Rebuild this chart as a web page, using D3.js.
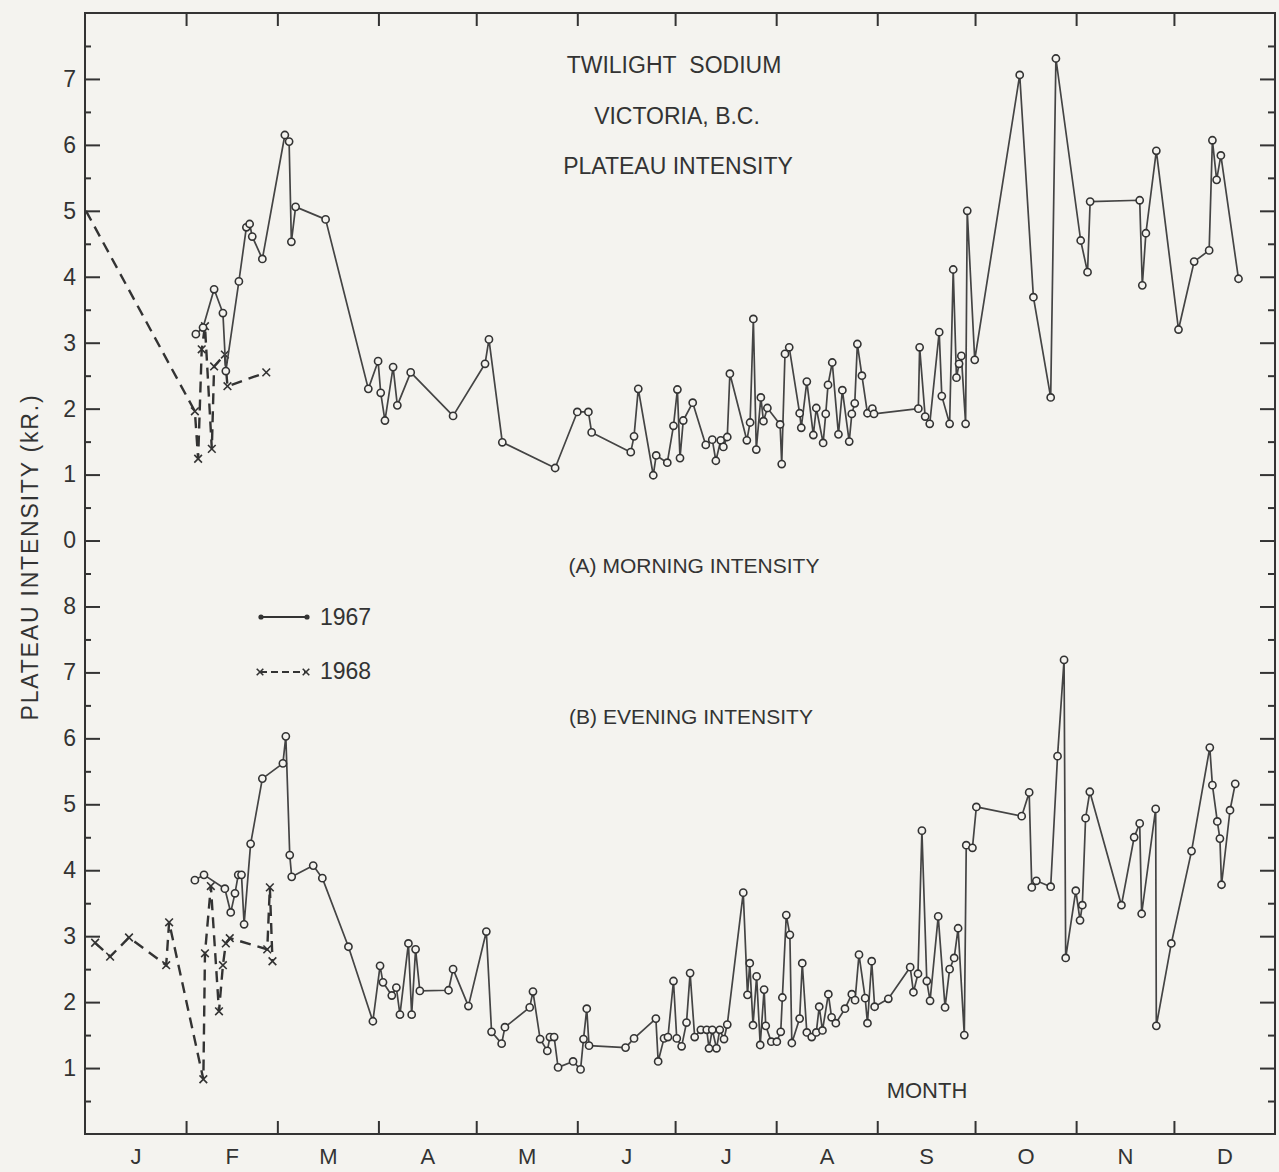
<!DOCTYPE html>
<html>
<head>
<meta charset="utf-8">
<script src="https://cdn.jsdelivr.net/npm/d3@7"></script>
<style>
  body { margin: 0; background: #f4f3ef; }
  svg { display: block; }
  text { font-family: "Liberation Sans", Arial, sans-serif; fill: #333; }
</style>
</head>
<body>
<svg id="chart"></svg>
<script>
// month labels and lengths (1967 is not a leap year)
const monthLetters = ['J', 'F', 'M', 'A', 'M', 'J', 'J', 'A', 'S', 'O', 'N', 'D'];
const monthDays = [31, 28, 31, 30, 31, 30, 31, 31, 30, 31, 30, 31];
const morningTicks = [0, 1, 2, 3, 4, 5, 6, 7];
const eveningTicks = [1, 2, 3, 4, 5, 6, 7, 8];

// [day of year, intensity kR]
const morning1967 = [[34.0,3.13],[36.2,3.23],[39.6,3.81],[42.3,3.45],[43.2,2.57],[47.2,3.93],[49.5,4.75],[50.5,4.80],[51.3,4.61],[54.4,4.27],[61.3,6.15],[62.6,6.05],[63.3,4.53],[64.6,5.06],[73.8,4.87],[86.9,2.30],[89.9,2.72],[90.7,2.24],[92.0,1.82],[94.5,2.63],[95.8,2.05],[99.9,2.55],[112.9,1.89],[122.7,2.68],[123.9,3.05],[128.0,1.49],[144.2,1.10],[151.0,1.95],[154.4,1.95],[155.4,1.64],[167.4,1.34],[168.4,1.58],[169.7,2.30],[174.3,0.99],[175.2,1.29],[178.6,1.18],[180.5,1.74],[181.7,2.29],[182.5,1.25],[183.5,1.82],[186.4,2.09],[190.4,1.45],[192.4,1.53],[193.5,1.21],[195.0,1.52],[195.8,1.42],[197.0,1.57],[197.8,2.53],[203.0,1.52],[204.0,1.79],[205.0,3.36],[205.9,1.38],[207.3,2.17],[208.1,1.81],[209.3,2.01],[213.2,1.76],[213.7,1.16],[214.7,2.83],[216.0,2.93],[219.2,1.93],[219.7,1.71],[221.4,2.41],[223.4,1.60],[224.3,2.01],[226.4,1.48],[227.2,1.92],[227.9,2.36],[229.2,2.70],[231.1,1.61],[232.3,2.28],[234.4,1.50],[235.2,1.92],[236.1,2.08],[236.9,2.98],[238.3,2.50],[240.0,1.93],[241.5,2.00],[242.0,1.92],[255.6,2.00],[256.0,2.93],[257.7,1.88],[259.1,1.77],[262.0,3.16],[262.8,2.19],[265.2,1.77],[266.3,4.11],[267.3,2.47],[268.1,2.68],[268.8,2.80],[270.1,1.77],[270.6,5.00],[272.9,2.74],[286.7,7.06],[290.9,3.69],[296.2,2.17],[297.8,7.31],[305.4,4.55],[307.5,4.07],[308.3,5.14],[323.5,5.16],[324.3,3.87],[325.4,4.66],[328.6,5.91],[335.4,3.20],[340.2,4.23],[344.8,4.40],[345.8,6.07],[347.1,5.47],[348.4,5.84],[353.8,3.97]];

const morning1968 = [[0.3,5.0],[33.7,1.96],[34.7,1.24],[35.8,2.9],[36.8,3.25],[38.9,1.39],[39.6,2.64],[42.9,2.82],[43.7,2.34],[55.6,2.55]];

const evening1967 = [[33.7,3.85],[36.5,3.93],[42.9,3.72],[44.7,3.36],[46.0,3.65],[47.0,3.93],[48.0,3.93],[48.8,3.18],[50.8,4.40],[54.4,5.39],[60.7,5.62],[61.6,6.03],[62.8,4.23],[63.4,3.90],[70.0,4.07],[72.8,3.88],[80.8,2.84],[88.3,1.71],[90.5,2.55],[91.4,2.30],[94.1,2.10],[95.5,2.22],[96.6,1.81],[99.2,2.89],[100.2,1.81],[101.4,2.80],[102.7,2.17],[111.5,2.18],[112.9,2.50],[117.6,1.94],[123.1,3.07],[124.7,1.55],[127.8,1.37],[128.8,1.62],[136.4,1.92],[137.4,2.16],[139.6,1.44],[141.8,1.26],[142.6,1.47],[143.9,1.47],[145.1,1.01],[149.7,1.10],[152.0,0.98],[152.9,1.44],[153.9,1.90],[154.6,1.34],[165.8,1.31],[168.4,1.45],[175.1,1.75],[175.8,1.10],[177.6,1.45],[178.8,1.47],[180.5,2.32],[181.5,1.45],[183.0,1.33],[184.5,1.69],[185.6,2.44],[187.0,1.47],[188.9,1.58],[190.7,1.58],[191.4,1.30],[192.4,1.58],[193.7,1.30],[194.7,1.58],[196.0,1.44],[197.0,1.66],[201.9,3.66],[203.2,2.11],[203.9,2.59],[204.9,1.65],[206.0,2.39],[207.1,1.35],[208.3,2.19],[208.8,1.64],[210.5,1.40],[212.2,1.40],[213.4,1.55],[213.9,2.07],[215.1,3.32],[216.2,3.02],[216.8,1.38],[219.2,1.75],[220.0,2.59],[221.4,1.54],[222.9,1.47],[224.3,1.54],[225.2,1.93],[226.2,1.57],[228.0,2.12],[229.0,1.77],[230.3,1.68],[233.1,1.90],[235.2,2.12],[236.2,2.03],[237.4,2.72],[239.3,2.06],[240.0,1.68],[241.3,2.62],[242.2,1.93],[246.4,2.05],[253.1,2.53],[254.1,2.15],[255.5,2.43],[256.7,4.60],[258.2,2.32],[259.2,2.02],[261.7,3.30],[263.8,1.92],[265.2,2.50],[266.6,2.67],[267.8,3.12],[269.7,1.50],[270.3,4.38],[272.2,4.34],[273.4,4.96],[287.3,4.82],[289.6,5.18],[290.4,3.74],[291.8,3.84],[296.2,3.75],[298.3,5.73],[300.3,7.19],[300.8,2.67],[303.9,3.69],[305.2,3.24],[305.9,3.47],[306.9,4.79],[308.2,5.19],[317.9,3.47],[321.8,4.50],[323.5,4.71],[324.1,3.34],[328.4,4.93],[328.6,1.64],[333.2,2.89],[339.4,4.29],[345.0,5.86],[345.8,5.29],[347.3,4.74],[348.1,4.48],[348.6,3.78],[351.2,4.91],[352.8,5.31]];

const evening1968 = [[3.1,2.90],[7.7,2.69],[13.5,2.98],[24.9,2.56],[25.8,3.21],[36.3,0.83],[36.8,2.74],[38.6,3.76],[41.1,1.86],[42.3,2.56],[43.2,2.89],[44.4,2.97],[55.9,2.80],[56.7,3.74],[57.5,2.62]];

const width = 1279, height = 1172;
const frame = { left: 85, right: 1275, top: 13, bottom: 1134 };
const ink = '#333';

const svg = d3.select('#chart')
    .attr('width', width)
    .attr('height', height);

svg.append('rect')
    .attr('width', width).attr('height', height)
    .attr('fill', '#f4f3ef');

const x = d3.scaleLinear()
    .domain([0, 365])
    .range([frame.left, frame.right]);

// one shared vertical scale: evening panel uses 0..17, morning panel is shifted up by 9
const yEvening = d3.scaleLinear().domain([0, 17]).range([frame.bottom, frame.top]);
const yMorning = d3.scaleLinear().domain([-9, 8]).range([frame.bottom, frame.top]);

const monthStarts = d3.cumsum(monthDays).slice(0, 11);
const monthMids = monthDays.map((d, i) => (i === 0 ? 0 : monthStarts[i - 1]) + d / 2);
const halfTicks = d3.range(0.5, 17, 1);

// frame
svg.append('rect')
    .attr('x', frame.left).attr('y', frame.top)
    .attr('width', frame.right - frame.left)
    .attr('height', frame.bottom - frame.top)
    .attr('fill', 'none')
    .attr('stroke', ink)
    .attr('stroke-width', 2);

const styleAxis = g => {
    g.select('.domain').remove();
    g.selectAll('.tick line').attr('stroke', ink).attr('stroke-width', 2);
    g.selectAll('.tick text')
        .attr('fill', '#3a3a3a')
        .style('font-family', '"Liberation Sans", Arial, sans-serif');
};

// left axis: morning labels
svg.append('g')
    .attr('transform', `translate(${frame.left},0)`)
    .call(d3.axisLeft(yMorning).tickValues(morningTicks).tickSize(-15).tickPadding(9).tickFormat(d3.format('d')))
    .call(styleAxis)
    .selectAll('text').style('font-size', '23px');

// left axis: evening labels
svg.append('g')
    .attr('transform', `translate(${frame.left},0)`)
    .call(d3.axisLeft(yEvening).tickValues(eveningTicks).tickSize(-15).tickPadding(9).tickFormat(d3.format('d')))
    .call(styleAxis)
    .selectAll('text').style('font-size', '23px');

// minor ticks left and right
svg.append('g')
    .attr('transform', `translate(${frame.left},0)`)
    .call(d3.axisLeft(yEvening).tickValues(halfTicks).tickSize(-6).tickFormat(''))
    .call(styleAxis);

svg.append('g')
    .attr('transform', `translate(${frame.right},0)`)
    .call(d3.axisRight(yEvening).tickValues(d3.range(1, 17)).tickSize(-15).tickFormat(''))
    .call(styleAxis);

svg.append('g')
    .attr('transform', `translate(${frame.right},0)`)
    .call(d3.axisRight(yEvening).tickValues(halfTicks).tickSize(-7).tickFormat(''))
    .call(styleAxis);

// month boundary ticks top and bottom
svg.append('g')
    .attr('transform', `translate(0,${frame.top})`)
    .call(d3.axisTop(x).tickValues(monthStarts).tickSize(-13).tickFormat(''))
    .call(styleAxis);

svg.append('g')
    .attr('transform', `translate(0,${frame.bottom})`)
    .call(d3.axisBottom(x).tickValues(monthStarts).tickSize(-13).tickFormat(''))
    .call(styleAxis);

// month letters
svg.append('g')
    .attr('transform', `translate(0,${frame.bottom})`)
    .call(d3.axisBottom(x).tickValues(monthMids).tickSize(0).tickPadding(14)
        .tickFormat((d, i) => monthLetters[i]))
    .call(styleAxis)
    .selectAll('text').style('font-size', '22px');

// series
const solidLine = y => d3.line().x(d => x(d[0])).y(d => y(d[1]));

const drawSolid = (data, y) => {
    svg.append('path')
        .datum(data)
        .attr('d', solidLine(y))
        .attr('fill', 'none')
        .attr('stroke', '#444')
        .attr('stroke-width', 1.7)
        .attr('stroke-linejoin', 'round');

    svg.append('g').selectAll('circle').data(data)
        .enter().append('circle')
            .attr('cx', d => x(d[0]))
            .attr('cy', d => y(d[1]))
            .attr('r', 3.6)
            .attr('fill', '#f4f3ef')
            .attr('stroke', ink)
            .attr('stroke-width', 1.6);
};

const drawDashed = (data, y) => {
    svg.append('path')
        .datum(data)
        .attr('d', solidLine(y))
        .attr('fill', 'none')
        .attr('stroke', '#333')
        .attr('stroke-width', 2.4)
        .attr('stroke-dasharray', '11,7');

    const cross = d3.symbol().type(d3.symbolX).size(40);
    svg.append('g').selectAll('path').data(data.filter(d => d[0] > 2))
        .enter().append('path')
            .attr('d', cross)
            .attr('transform', d => `translate(${x(d[0])},${y(d[1])})`)
            .attr('fill', 'none')
            .attr('stroke', ink)
            .attr('stroke-width', 1.6);
};

drawDashed(morning1968, yMorning);
drawSolid(morning1967, yMorning);
drawDashed(evening1968, yEvening);
drawSolid(evening1967, yEvening);

// texts
const addText = (t, px, py, size, anchor = 'middle') =>
    svg.append('text')
        .attr('x', px).attr('y', py)
        .attr('text-anchor', anchor)
        .style('font-size', size + 'px')
        .text(t);

addText('TWILIGHT\u00a0\u00a0SODIUM', 674, 73, 23);
addText('VICTORIA, B.C.', 677, 124, 23);
addText('PLATEAU INTENSITY', 678, 174, 23);
addText('(A) MORNING INTENSITY', 694, 573, 21);
addText('(B) EVENING INTENSITY', 691, 724, 21);
addText('MONTH', 927, 1098, 22);

svg.append('text')
    .attr('transform', 'translate(38,557) rotate(-90)')
    .attr('text-anchor', 'middle')
    .style('font-size', '23px')
    .style('letter-spacing', '1.8px')
    .text('PLATEAU INTENSITY (kR.)');

// legend
const legend = svg.append('g');
legend.append('line')
    .attr('x1', 261).attr('x2', 307).attr('y1', 617).attr('y2', 617)
    .attr('stroke', ink).attr('stroke-width', 2);
legend.selectAll('circle').data([261, 307]).enter().append('circle')
    .attr('cx', d => d).attr('cy', 617).attr('r', 2.6).attr('fill', ink);
addText('1967', 320, 625, 23, 'start');

legend.append('line')
    .attr('x1', 260).attr('x2', 306).attr('y1', 672).attr('y2', 672)
    .attr('stroke', ink).attr('stroke-width', 2).attr('stroke-dasharray', '7,4');
legend.selectAll('.lx').data([260, 306]).enter().append('path')
    .attr('class', 'lx')
    .attr('d', d3.symbol().type(d3.symbolX).size(30))
    .attr('transform', d => `translate(${d},672)`)
    .attr('stroke', ink).attr('stroke-width', 1.6);
addText('1968', 320, 679, 23, 'start');
</script>
</body>
</html>
